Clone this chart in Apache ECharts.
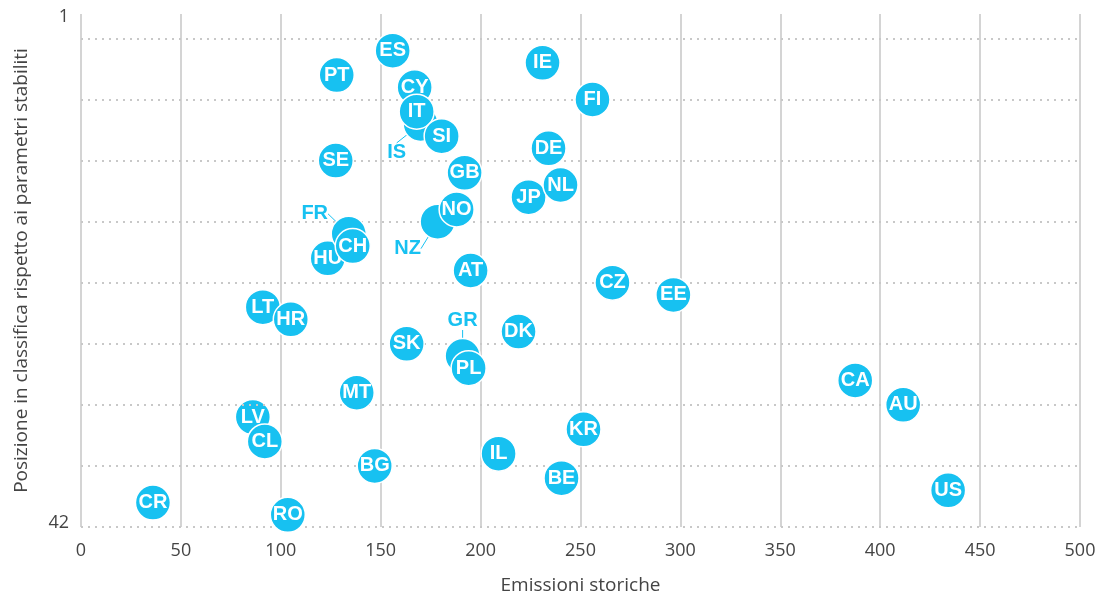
<!DOCTYPE html>
<html>
<head>
<meta charset="utf-8">
<script src="https://cdn.jsdelivr.net/npm/echarts@6/dist/echarts.min.js"></script>
<style>html,body{margin:0;padding:0;background:#fff;}#c{width:1105px;height:600px;}</style>
</head>
<body>
<div id="c"></div>
<script>
// Data (listed in drawing order)
const countries = ['CR','LV','LT','CL','RO','HR','HU','SE','PT','FR','CH','MT','BG','ES','SK','CY','IS','IT','NZ','SI','NO','GR','GB','PL','AT','IL','DK','JP','IE','DE','NL','BE','KR','FI','CZ','EE','CA','AU','US'];
const emissions = [36,86,91,92,103.5,105,123.5,127.5,128,134,136,138,147,156,163,167,170,168,178.5,180.5,188,191,192,194,195,209,219,224,231,234,240,240.5,251.5,256,266,296.5,387.5,411.5,434];
const ranks     = [40,33,24,35,41,25,20,12,5,18,19,31,37,3,27,6,9,8,17,10,16,28,13,29,21,36,26,15,4,11,14,38,34,7,22,23,30,32,39];
const xTicks = [0,50,100,150,200,250,300,350,400,450,500];
const yTickValues = [1,42];
const yTickLabels = ['1','42'];
const rankGridLines = [2,7,12,17,22,27,32,37,42];
const xTitle = 'Emissioni storiche';
const yTitle = 'Posizione in classifica rispetto ai parametri stabiliti';

// Label placement for points whose labels sit outside (offsets in px)
const outsideLabels = { IS: [-24, 29], FR: [-34, -20], NZ: [-30, 27], GR: [0, -36] };

const BLUE = '#17c1f1';
const AXIS_FONT = 'Open Sans';

const pointSeries = countries.map((c, i) => {
  const out = outsideLabels[c];
  const s = {
    type: 'scatter',
    name: c,
    z: 3 + i,
    symbol: 'circle',
    symbolSize: 35,
    itemStyle: { color: BLUE, borderColor: '#fff', borderWidth: 1.5, opacity: 1 },
    label: {
      show: true,
      position: 'inside',
      formatter: c,
      color: out ? BLUE : '#fff',
      fontFamily: 'Liberation Sans',
      fontWeight: 'bold',
      fontSize: 20
    },
    emphasis: { disabled: true },
    data: [[emissions[i], ranks[i]]]
  };
  if (out) {
    s.labelLayout = { dx: out[0], dy: out[1] };
    s.labelLine = { show: true, lineStyle: { color: BLUE, width: 1 } };
  }
  return s;
});

const chart = echarts.init(document.getElementById('c'), null, { renderer: 'canvas' });
chart.setOption({
  animation: false,
  grid: { left: 81, right: 25, top: 14, bottom: 71, containLabel: false },
  xAxis: {
    type: 'value',
    min: xTicks[0], max: xTicks[xTicks.length - 1], interval: 50,
    name: xTitle, nameLocation: 'middle', nameGap: 49,
    nameTextStyle: { fontFamily: AXIS_FONT, fontSize: 19, color: '#444' },
    axisLine: { show: false }, axisTick: { show: false },
    axisLabel: { fontFamily: AXIS_FONT, fontSize: 18, color: '#444', margin: 15 },
    splitLine: { show: true, lineStyle: { color: '#d4d4d4', width: 2 } }
  },
  yAxis: {
    type: 'value', inverse: true, min: 0, max: 42,
    name: yTitle, nameLocation: 'middle', nameGap: 50,
    nameTextStyle: { fontFamily: AXIS_FONT, fontSize: 19, color: '#444' },
    axisLine: { show: false }, axisTick: { show: false },
    splitLine: { show: false },
    axisLabel: {
      customValues: yTickValues,
      margin: 12,
      formatter: function (v) {
        const idx = yTickValues.indexOf(v);
        const t = idx >= 0 ? yTickLabels[idx] : '';
        return idx === 0 ? '{t|' + t + '}' : '{b|' + t + '}';
      },
      rich: {
        t: { fontFamily: AXIS_FONT, fontSize: 18, color: '#444', padding: [0, 0, 18, 0] },
        b: { fontFamily: AXIS_FONT, fontSize: 18, color: '#444', padding: [0, 0, 8, 0] }
      }
    }
  },
  series: [{
    type: 'scatter',
    z: 1,
    data: [],
    silent: true,
    markLine: {
      silent: true,
      symbol: ['none', 'none'],
      label: { show: false },
      lineStyle: { type: [2, 5], color: '#c8c8c8', width: 2 },
      emphasis: { disabled: true },
      data: rankGridLines.map(v => ({ yAxis: v }))
    }
  }].concat(pointSeries)
});
</script>
</body>
</html>
